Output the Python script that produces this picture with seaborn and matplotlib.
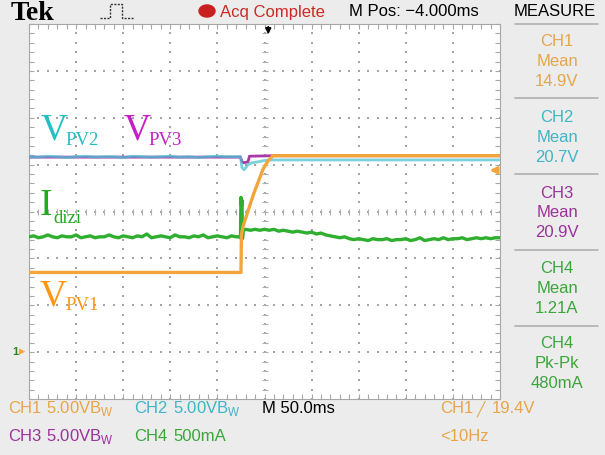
import numpy as np
import matplotlib
matplotlib.use("Agg")
import matplotlib.pyplot as plt
from matplotlib.patches import Circle
from matplotlib.lines import Line2D
import seaborn as sns

# ---------------- acquisition record (time in ms, centre of screen = 0) ----------------
# CH1  V_PV1  (volts)
ch1_t = [-250, -25.0, -24.5, -22.8, -19.6, -15.4, -11.1, -6.9, -1.6, 3.7, 9.0, 250]
ch1_v = [8.5, 8.5, 12.5, 13.4, 14.4, 15.7, 17.0, 18.1, 19.5, 20.4, 20.95, 20.95]

# CH2  V_PV2  (volts)
ch2_t = [-250, -240, -230, -220, -210, -200, -190, -180, -170, -160, -150, -140,
         -130, -120, -110, -100, -90, -80, -70, -60, -50, -40, -30,
         -25.5, -24.0, -21.8, -19.6, -17.5, -13.3, -6.9, 0.5, 8.0, 250]
ch2_v = [20.85, 20.8, 20.9, 20.85, 20.75, 20.85, 20.9, 20.8, 20.85, 20.85, 20.75, 20.9,
         20.85, 20.8, 20.85, 20.9, 20.8, 20.85, 20.75, 20.85, 20.9, 20.85, 20.85,
         20.85, 19.7, 19.45, 19.7, 20.0, 20.2, 20.3, 20.45, 20.5, 20.5]

# CH3  V_PV3  (volts)
ch3_t = [-250, -25.5, -23.9, -21.8, -17.5, -16.0, 11.0, 250]
ch3_v = [20.8, 20.8, 20.3, 20.2, 20.3, 20.9, 20.95, 20.95]

# CH4  I_dizi  (amps)
ch4_t = [-250, -245, -240, -235, -230, -225, -220, -215, -210, -205,
         -200, -195, -190, -185, -180, -175, -170, -165, -160, -155,
         -150, -145, -140, -135, -130, -125, -120, -115, -110, -105,
         -100, -95, -90, -85, -80, -75, -70, -65, -60, -55,
         -50, -45, -40, -35, -30, -27.5, -25.5,
         -25.0, -24.3, -23.9, -23.4, -22.5,
         -20, -15, -10, -5, 0, 5, 10, 15, 20, 25,
         30, 35, 40, 45, 50, 55, 60, 65, 70, 75,
         80, 85, 90, 95, 100, 105, 110, 115, 120, 125,
         130, 135, 140, 145, 150, 155, 160, 165, 170, 175,
         180, 185, 190, 195, 200, 205, 210, 215, 220, 225,
         230, 235, 240, 245, 250]
ch4_a = [1.23, 1.24, 1.22, 1.23, 1.25, 1.23, 1.22, 1.24, 1.23, 1.23,
         1.25, 1.22, 1.23, 1.24, 1.22, 1.23, 1.23, 1.25, 1.23, 1.22,
         1.24, 1.23, 1.22, 1.24, 1.23, 1.26, 1.22, 1.23, 1.24, 1.23,
         1.22, 1.25, 1.23, 1.23, 1.22, 1.24, 1.23, 1.25, 1.22, 1.23,
         1.24, 1.23, 1.22, 1.24, 1.23, 1.23, 1.22,
         1.65, 1.56, 1.62, 1.21, 1.30,
         1.31, 1.30, 1.31, 1.30, 1.31, 1.30, 1.31, 1.29, 1.30, 1.29,
         1.28, 1.29, 1.28, 1.27, 1.28, 1.26, 1.27, 1.25, 1.24, 1.23,
         1.22, 1.23, 1.21, 1.20, 1.21, 1.20, 1.19, 1.21, 1.20, 1.20,
         1.21, 1.19, 1.20, 1.20, 1.21, 1.19, 1.20, 1.22, 1.19, 1.20,
         1.21, 1.20, 1.22, 1.20, 1.21, 1.21, 1.22, 1.20, 1.21, 1.22,
         1.21, 1.22, 1.21, 1.22, 1.22]

# vertical scale per channel and ground reference (divisions from screen centre)
scale_ch1, scale_ch2, scale_ch3, scale_ch4 = 5.0, 5.0, 5.0, 0.5
ground_div = -3.0
trigger_level_v = 19.4
trigger_time_ms = 4.0

# measurement read-outs
meas_channels = ["CH1", "CH2", "CH3", "CH4", "CH4"]
meas_kinds = ["Mean", "Mean", "Mean", "Mean", "Pk-Pk"]
meas_values = ["14.9V", "20.7V", "20.9V", "1.21A", "480mA"]

# ---------------- styling ----------------
C1, C2, C3, C4 = "#f2a53a", "#4cc4d4", "#a83aa8", "#2fae2f"
T1, T2, T3, T4 = "#e6a54a", "#3fb5c5", "#9a329a", "#3aa63a"
TEK = ["Liberation Sans", "DejaVu Sans"]
SERIF = ["Liberation Serif", "DejaVu Serif"]
FS = 12

sns.set_style("white")
W, H = 605, 456
fig = plt.figure(figsize=(W / 100, H / 100), dpi=100)
fig.patch.set_facecolor("#ececec")
ax = fig.add_axes([29 / W, 56 / H, 471 / W, 375 / H])
ax.set_facecolor("white")
ax.set_xlim(-250, 250)
ax.set_ylim(-4, 4)


def div(vals, scale):
    return np.asarray(vals, dtype=float) / scale + ground_div


# graticule: dotted division lines
gx, gy = [], []
for x in range(-200, 201, 50):
    ys = np.arange(-4, 4.001, 0.2)
    gx += [x] * len(ys)
    gy += list(ys)
for y in range(-3, 4):
    xs = np.arange(-250, 250.1, 10)
    gx += list(xs)
    gy += [y] * len(xs)
ax.scatter(gx, gy, s=2.0, marker="s", color="#a4a4a4", linewidths=0, zorder=1)
# centre cross minor marks
xs = np.arange(-250, 251, 10)
ys = np.arange(-4, 4.001, 0.2)
ax.plot(xs, np.zeros_like(xs), ls="none", marker="|", ms=5, mew=0.8, color="#b0b0b0", zorder=1)
ax.plot(np.zeros_like(ys), ys, ls="none", marker="_", ms=5, mew=0.8, color="#b0b0b0", zorder=1)

ax.set_xticks(np.arange(-250, 251, 10))
ax.set_yticks(np.arange(-4, 4.001, 0.2))
ax.tick_params(which="both", direction="in", length=3.5, width=0.8, color="#a8a8a8",
               top=True, right=True, bottom=True, left=True,
               labelbottom=False, labelleft=False)
for s in ax.spines.values():
    s.set_color("#a8a8a8")
    s.set_linewidth(0.8)

# traces
sns.lineplot(x=ch3_t, y=div(ch3_v, scale_ch3), ax=ax, color=C3, linewidth=2.0,
             estimator=None, sort=False, legend=False, zorder=3)
sns.lineplot(x=ch2_t, y=div(ch2_v, scale_ch2), ax=ax, color=C2, linewidth=2.0, alpha=0.75,
             estimator=None, sort=False, legend=False, zorder=4)
sns.lineplot(x=ch4_t, y=div(ch4_a, scale_ch4), ax=ax, color=C4, linewidth=2.4,
             estimator=None, sort=False, legend=False, zorder=5)
sns.lineplot(x=ch1_t, y=div(ch1_v, scale_ch1), ax=ax, color=C1, linewidth=2.4,
             estimator=None, sort=False, legend=False, zorder=6)
ax.set_xlabel("")
ax.set_ylabel("")

# trigger position and level markers
ax.annotate("", xy=(trigger_time_ms, 3.72), xytext=(trigger_time_ms, 4.0),
            arrowprops=dict(arrowstyle="-|>", color="black", lw=1.3, mutation_scale=8),
            annotation_clip=False, zorder=8)
lvl = trigger_level_v / scale_ch1 + ground_div
ax.annotate("", xy=(236, lvl), xytext=(250, lvl),
            arrowprops=dict(arrowstyle="-|>", color=C1, lw=2.0, mutation_scale=10),
            annotation_clip=False, zorder=8)


def ftxt(x, y, s, **kw):
    kw.setdefault("va", "center")
    kw.setdefault("ha", "left")
    return fig.text(x / W, 1 - y / H, s, **kw)


# ground reference markers at the left edge
ftxt(12, 352, "1", color="#2f7f2f", fontsize=8, fontweight="bold", family=TEK)
ftxt(19, 352, "▸", color=C1, fontsize=9, family=["DejaVu Sans"])

# header
ftxt(11, 13, "Tek", fontsize=20, fontweight="bold", family=SERIF, color="black")
pulse = Line2D(np.array([100, 110, 110, 122, 122, 134]) / W,
               1 - np.array([19, 19, 5, 5, 19, 19]) / H,
               transform=fig.transFigure, color="#333333", lw=1.0, ls=(0, (1.5, 1)))
fig.add_artist(pulse)
fig.add_artist(Circle((207 / W, 1 - 12 / H), 8 / W, transform=fig.transFigure,
                      color="#c8201e"))
ftxt(220, 12, "Acq Complete", fontsize=FS, color="#cc2a24", family=TEK)
ftxt(349, 12, "M Pos: −4.000ms", fontsize=FS, color="black", family=TEK)
ftxt(555, 12, "MEASURE", fontsize=FS, color="black", family=TEK, ha="center")

# measurement panel
colors = {"CH1": T1, "CH2": T2, "CH3": T3, "CH4": T4}
sep_y = [25, 99, 175, 251, 327]
for yy in sep_y:
    fig.add_artist(Line2D([515 / W, 598 / W], [1 - yy / H, 1 - yy / H],
                          transform=fig.transFigure, color="#b0b0b0", lw=1.2))
for i, (ch, kind, val) in enumerate(zip(meas_channels, meas_kinds, meas_values)):
    y0 = 42 + i * 75.5
    for k, s in enumerate([ch, kind, val]):
        ftxt(557, y0 + 20 * k, s, fontsize=FS, color=colors[ch], family=TEK, ha="center")

# bottom status lines
r1, r2 = 409, 437
ftxt(8, r1, "CH1", fontsize=FS, color=T1, family=TEK)
ftxt(46, r1, r"5.00VB$_\mathregular{W}$", fontsize=FS, color=T1, family=TEK)
ftxt(134, r1, "CH2", fontsize=FS, color=T2, family=TEK)
ftxt(173, r1, r"5.00VB$_\mathregular{W}$", fontsize=FS, color=T2, family=TEK)
ftxt(262, r1, "M 50.0ms", fontsize=FS, color="black", family=TEK)
ftxt(440, r1, "CH1", fontsize=FS, color=T1, family=TEK)
ftxt(477, r1, "╱", fontsize=10, color=T1, family=["DejaVu Sans"])
ftxt(492, r1, "19.4V", fontsize=FS, color=T1, family=TEK)
ftxt(8, r2, "CH3", fontsize=FS, color=T3, family=TEK)
ftxt(46, r2, r"5.00VB$_\mathregular{W}$", fontsize=FS, color=T3, family=TEK)
ftxt(134, r2, "CH4", fontsize=FS, color=T4, family=TEK)
ftxt(173, r2, "500mA", fontsize=FS, color=T4, family=TEK)
ftxt(440, r2, "<10Hz", fontsize=FS, color=T1, family=TEK)

# signal names
def label(x, y, main, sub, xs, ys, color):
    ftxt(x, y, main, fontsize=27, color=color, family=SERIF, va="baseline")
    ftxt(xs, ys, sub, fontsize=13.5, color=color, family=SERIF, va="baseline")

label(41, 140, "V", "PV2", 65, 145, "#22bfc4")
label(124, 140, "V", "PV3", 148, 145, "#c41fc4")
label(40, 215, "I", "dizi", 53, 223, "#22aa22")
label(40, 305, "V", "PV1", 65, 310, "#ff9612")

fig.savefig("out.png", dpi=100, facecolor=fig.get_facecolor())
